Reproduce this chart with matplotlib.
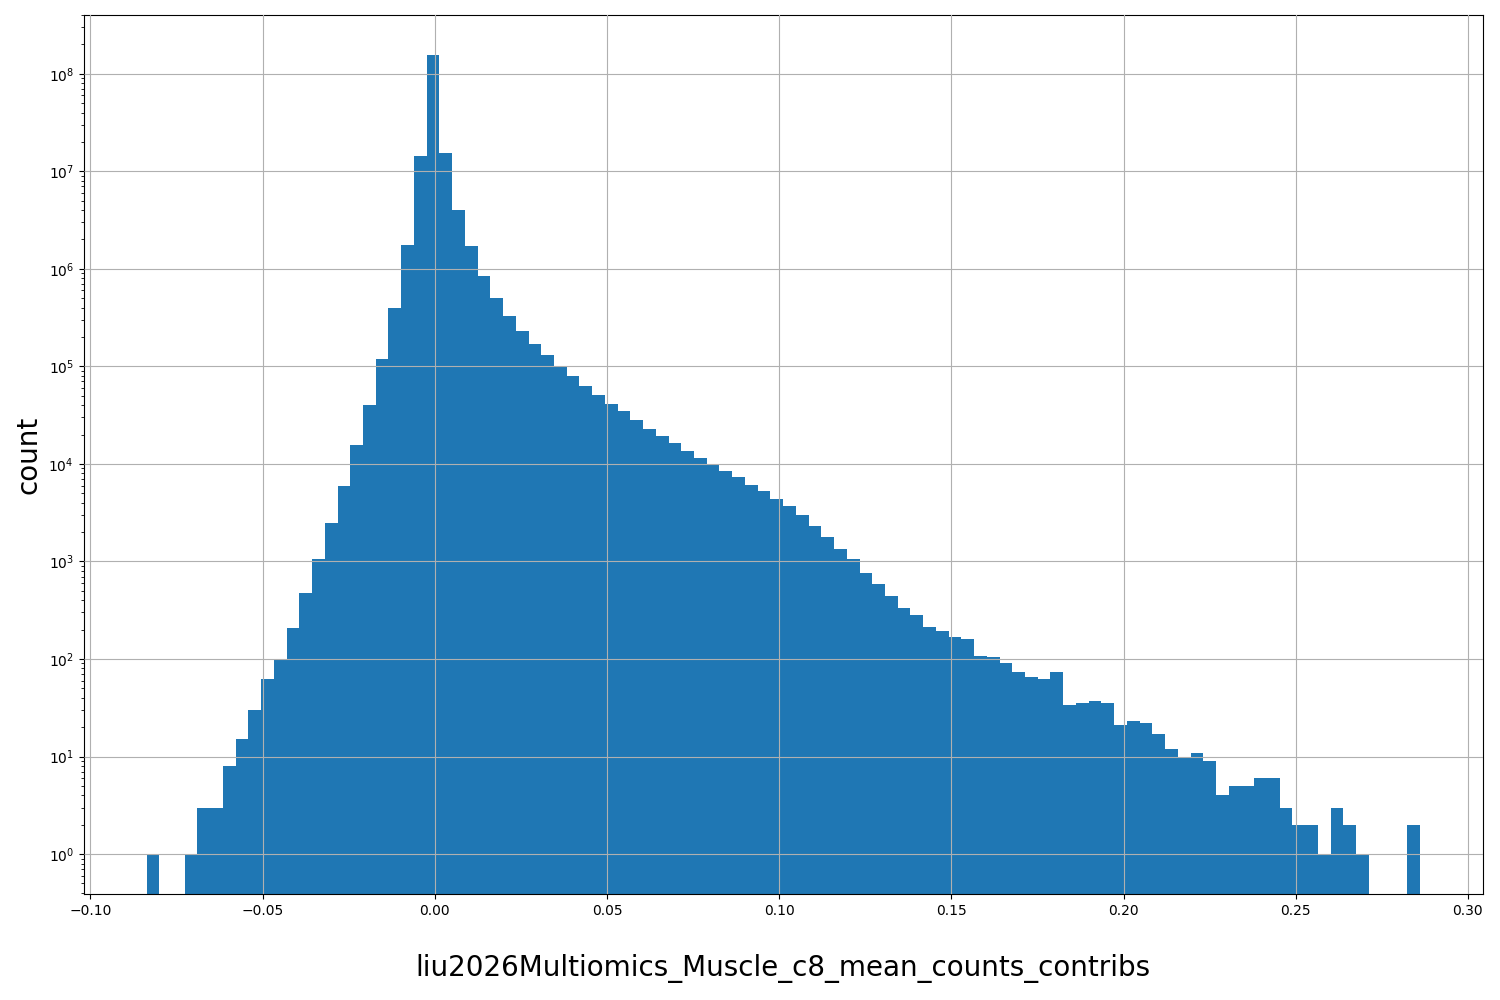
import numpy as np
import matplotlib
matplotlib.use("Agg")
import matplotlib.pyplot as plt

x_min, x_max, n_bins = -0.0837, 0.2860, 100
counts = [1, 0, 0, 1, 3, 3, 8, 15, 30, 63,
          100, 210, 480, 1050, 2500, 6000, 15500, 40000, 120000, 400000,
          1.75e6, 1.45e7, 1.55e8, 1.55e7, 4e6, 1.7e6, 850000, 500000, 330000, 230000,
          170000, 130000, 100000, 80000, 63000, 51000, 41000, 35000, 28000, 23000,
          19500, 16500, 13500, 11500, 10000, 8500, 7300, 6100, 5300, 4400,
          3700, 3000, 2300, 1800, 1350, 1050, 770, 590, 440, 330,
          280, 215, 195, 170, 160, 108, 105, 92, 73, 66,
          63, 73, 34, 35, 37, 35, 21, 23, 22, 17,
          12, 10, 11, 9, 4, 5, 5, 6, 6, 3,
          2, 2, 1, 3, 2, 1, 0, 0, 0, 2]

edges = np.linspace(x_min, x_max, n_bins + 1)
centers = (edges[:-1] + edges[1:]) / 2

fig, ax = plt.subplots(figsize=(15, 10), dpi=100)
fig.subplots_adjust(left=0.0557, right=0.9887, top=0.985, bottom=0.106)
ax.hist(centers, bins=edges, weights=counts, color="#1f77b4", zorder=2)
ax.set_yscale("log")
ax.set_xlim(-0.1020, 0.3044)
ax.set_ylim(0.39, 4e8)
ax.grid(True, zorder=0)
ax.set_axisbelow(False)
ax.set_xlabel("liu2026Multiomics_Muscle_c8_mean_counts_contribs", fontsize=20, labelpad=26)
ax.set_ylabel("count", fontsize=20)
fig.savefig("out.png")
